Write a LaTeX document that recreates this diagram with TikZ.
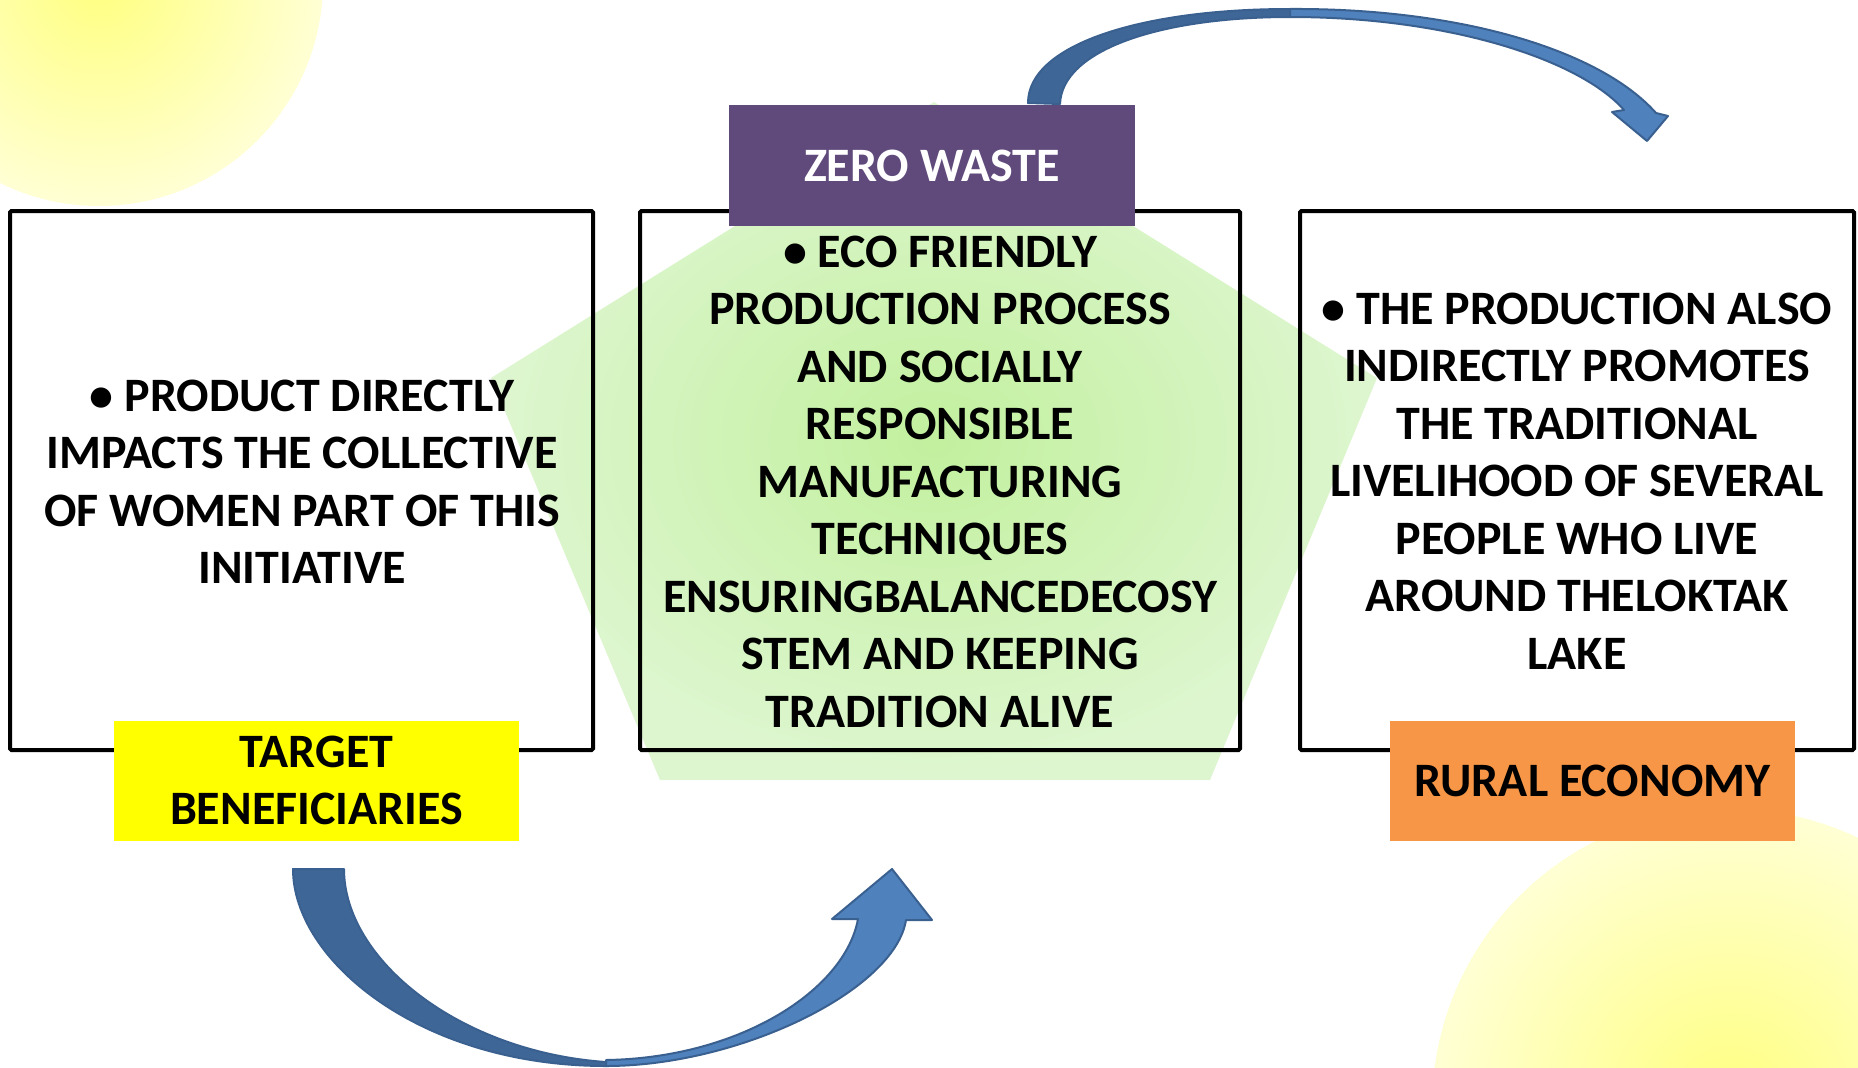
\documentclass[tikz,border=0pt]{standalone}
\usepackage{fontspec}
\setmainfont{Carlito}
\definecolor{zwpurple}{HTML}{604A7B}
\definecolor{tbyellow}{HTML}{FFFF00}
\definecolor{reorange}{HTML}{F79646}
\definecolor{arrlight}{HTML}{4F81BD}
\definecolor{arrdark}{HTML}{3E6696}
\definecolor{arrline}{HTML}{3A6090}
\definecolor{sunin}{RGB}{255,255,128}
\definecolor{sunout}{RGB}{255,255,212}
\definecolor{pentin}{RGB}{194,240,158}
\definecolor{pentout}{RGB}{222,246,208}
\tikzset{
  frame/.style={draw=black, line width=4pt, rounded corners=1.5pt, minimum width=#1, minimum height=539pt, inner sep=0pt},
  label box/.style={fill=#1, minimum width=405pt, minimum height=120pt, inner sep=0pt},
  txt/.style={font=\bfseries\fontsize{48}{57.5}\selectfont, align=center, inner sep=0pt, text=black},
  arrpart/.style={fill=#1, draw=arrline, line width=2pt, line join=round},
}
\begin{document}
\begin{tikzpicture}[x=1pt,y=-1pt]
\useasboundingbox (0,0) rectangle (1858,1068);
\fill[white] (0,0) rectangle (1858,1068);
% background suns
\shade[inner color=sunin, outer color=sunout] (99,-18) circle[radius=224];
\shade[inner color=sunin, outer color=sunout] (1730,1107) circle[radius=298];
% pentagon
\shade[inner color=pentin, outer color=pentout] (934,102) -- (1377,378) -- (1210,780) -- (660,780) -- (491,378) -- cycle;
% frames
\node[frame=583pt] (leftbox) at (301.5,480.5) {};
\node[frame=600pt] (midbox) at (940,480.5) {};
\node[frame=554pt] (rightbox) at (1577,480.5) {};
% label boxes
\node[label box=zwpurple, minimum width=406pt, minimum height=121pt, txt, text=white] (zero) at (932,165.5) {ZERO WASTE};
\node[label box=tbyellow, txt] (target) at (316.5,780.5) {TARGET\\BENEFICIARIES};
\node[label box=reorange, txt] (rural) at (1592.5,780.5) {RURAL ECONOMY};
% texts
\node[txt] (lefttext) at (302,482) {• PRODUCT DIRECTLY\\IMPACTS THE COLLECTIVE\\OF WOMEN PART OF THIS\\INITIATIVE};
\node[txt] (midtext) at (940,481.5) {• ECO FRIENDLY\\PRODUCTION PROCESS\\AND SOCIALLY\\RESPONSIBLE\\MANUFACTURING\\TECHNIQUES\\ENSURINGBALANCEDECOSY\\STEM AND KEEPING\\TRADITION ALIVE};
\node[txt] (righttext) at (1577,481) {• THE PRODUCTION ALSO\\INDIRECTLY PROMOTES\\THE TRADITIONAL\\LIVELIHOOD OF SEVERAL\\PEOPLE WHO LIVE\\AROUND THELOKTAK\\LAKE};
% bottom curved arrow
\path[arrpart=arrdark] (293,869) -- (344,869) .. controls (344,960) and (460,1052) .. (606,1062) -- (606,1066) .. controls (420,1066) and (293,960) .. (293,869) -- cycle;
\path[arrpart=arrlight] (606,1066) .. controls (740,1066) and (895,990) .. (906,920) -- (932,920) -- (892,869) -- (832,919) -- (858,919) .. controls (845,990) and (740,1058) .. (606,1060) -- cycle;
% top curved arrow
\path[arrpart=arrdark] (1028,103) .. controls (1028,45) and (1140,9) .. (1290,9) -- (1290,17) .. controls (1160,17) and (1062,50) .. (1060,104) -- cycle;
\path[arrpart=arrlight] (1290,9) .. controls (1460,8) and (1600,50) .. (1656,113) -- (1668,116) -- (1647,141) -- (1612,112) -- (1624,110) .. controls (1580,60) and (1450,17) .. (1290,17) -- cycle;
\end{tikzpicture}
\end{document}
